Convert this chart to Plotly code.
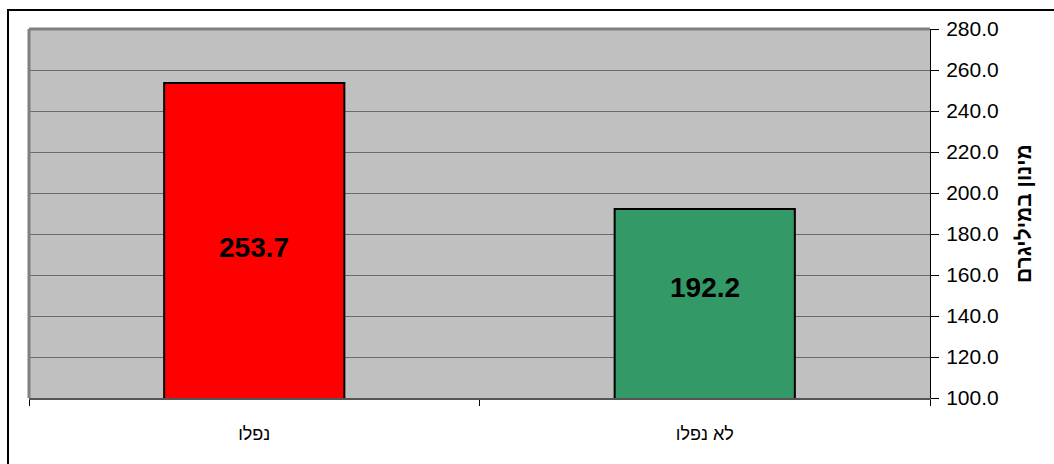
import plotly.graph_objects as go

# Data
categories = ["נפלו", "לא נפלו"]
values = [253.7, 192.2]
bar_colors = ["#FF0000", "#339966"]
y_title = "מינון במיליגרם"
y_ticks = [100, 120, 140, 160, 180, 200, 220, 240, 260, 280]

# Vertical placement of the in-bar value labels (axis units)
label_pos = [173.2, 153.7]

FONT = "Arial, 'Liberation Sans', sans-serif"

fig = go.Figure()
fig.add_trace(go.Bar(
    x=categories,
    y=values,
    width=0.4,
    marker=dict(color=bar_colors, line=dict(color="black", width=2)),
    hoverinfo="skip",
))

for cat, val, ypos in zip(categories, values, label_pos):
    fig.add_annotation(
        x=cat, y=ypos, xref="x", yref="y",
        text=f"<b>{val:.1f}</b>", showarrow=False,
        font=dict(family=FONT, size=28, color="black"),
    )

# Outer chart frame (left and top edges visible)
fig.add_shape(
    type="rect", xref="paper", yref="paper",
    x0=-0.0233, x1=1.2, y0=-0.3, y1=1.0515,
    line=dict(color="black", width=2), fillcolor="rgba(0,0,0,0)",
    layer="below",
)

fig.update_layout(
    width=1054, height=464,
    margin=dict(l=29, r=124, t=29, b=66),
    paper_bgcolor="white",
    plot_bgcolor="#C0C0C0",
    showlegend=False,
    bargap=0.6,
    font=dict(family=FONT, color="black"),
)

fig.update_xaxes(
    type="category",
    tickson="boundaries",
    ticks="outside", ticklen=6, tickcolor="black", tickwidth=1,
    ticklabelstandoff=18,
    showline=True, linecolor="#555555", linewidth=2,
    mirror=False,
    showgrid=False,
    tickfont=dict(family=FONT, size=18, color="black"),
    fixedrange=True,
)

fig.update_yaxes(
    side="right",
    range=[100, 280],
    tickvals=y_ticks,
    tickformat=".1f",
    ticks="outside", ticklen=8, tickcolor="black", tickwidth=1,
    ticklabelstandoff=3,
    showline=True, linecolor="black", linewidth=1,
    showgrid=True, gridcolor="#6a6a6a", gridwidth=1,
    zeroline=False,
    tickfont=dict(family=FONT, size=21, color="black"),
    title=dict(text=f"<b>{y_title}</b>", font=dict(family=FONT, size=21, color="black"), standoff=18),
    fixedrange=True,
)

# Gray border on the left and top of the plot area
fig.add_shape(type="line", xref="paper", yref="paper", x0=0, x1=0, y0=0, y1=1,
              line=dict(color="#808080", width=3))
fig.add_shape(type="line", xref="paper", yref="paper", x0=0, x1=1, y0=1, y1=1,
              line=dict(color="#808080", width=3))

fig.write_html("out.html")
